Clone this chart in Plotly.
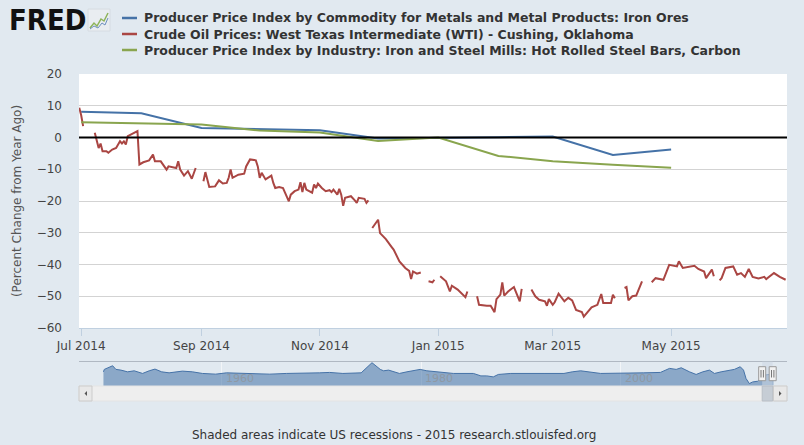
import plotly.graph_objects as go

# ---------------- data ----------------
ppi_dates = ["2014-07-01", "2014-08-01", "2014-09-01", "2014-10-01", "2014-11-01", "2014-12-01",
             "2015-01-01", "2015-02-01", "2015-03-01", "2015-04-01", "2015-05-01"]
iron_ore_pct = [8.1, 7.6, 3.0, 2.7, 2.3, -0.3, 0.0, 0.1, 0.3, -5.5, -3.8]
steel_bars_pct = [4.8, 4.4, 4.1, 2.2, 1.6, -1.1, 0.0, -5.8, -7.5, -8.6, -9.5]

oil_dates = [
    "2014-06-30", "2014-07-01", "2014-07-02", "2014-07-03", "2014-07-08", "2014-07-09", "2014-07-10",
    "2014-07-11", "2014-07-12", "2014-07-14", "2014-07-15", "2014-07-17", "2014-07-19", "2014-07-21",
    "2014-07-22", "2014-07-23", "2014-07-24", "2014-07-25", "2014-07-27", "2014-07-28", "2014-07-30",
    "2014-07-31", "2014-08-02", "2014-08-05", "2014-08-07", "2014-08-08", "2014-08-11", "2014-08-14",
    "2014-08-15", "2014-08-19", "2014-08-20", "2014-08-21", "2014-08-23", "2014-08-25", "2014-08-27",
    "2014-08-29", "2014-09-01", "2014-09-02", "2014-09-03", "2014-09-05", "2014-09-08", "2014-09-10",
    "2014-09-12", "2014-09-14", "2014-09-15", "2014-09-16", "2014-09-17", "2014-09-20", "2014-09-23",
    "2014-09-24", "2014-09-26", "2014-09-29", "2014-09-30", "2014-10-01", "2014-10-02", "2014-10-04",
    "2014-10-06", "2014-10-07", "2014-10-08", "2014-10-09", "2014-10-11", "2014-10-13", "2014-10-15",
    "2014-10-16", "2014-10-17", "2014-10-19", "2014-10-21", "2014-10-22", "2014-10-23", "2014-10-24",
    "2014-10-25", "2014-10-28", "2014-10-29", "2014-10-30", "2014-10-31", "2014-11-02", "2014-11-04",
    "2014-11-06", "2014-11-07", "2014-11-08", "2014-11-10", "2014-11-11", "2014-11-12", "2014-11-13",
    "2014-11-14", "2014-11-17", "2014-11-19", "2014-11-20", "2014-11-21", "2014-11-24", "2014-11-25",
    "2014-11-26", "2014-11-27", "2014-11-28", "2014-12-01", "2014-12-02", "2014-12-05", "2014-12-08",
    "2014-12-09", "2014-12-12", "2014-12-15", "2014-12-17", "2014-12-18", "2014-12-19", "2014-12-21",
    "2014-12-23", "2014-12-25", "2014-12-27", "2014-12-29", "2014-12-30", "2015-01-01", "2015-01-02",
    "2015-01-05", "2015-01-07", "2015-01-08", "2015-01-11", "2015-01-14", "2015-01-15", "2015-01-16",
    "2015-01-19", "2015-01-21", "2015-01-22", "2015-01-26", "2015-01-28", "2015-01-30", "2015-01-31",
    "2015-02-02", "2015-02-03", "2015-02-04", "2015-02-06", "2015-02-09", "2015-02-12", "2015-02-13",
    "2015-02-16", "2015-02-18", "2015-02-20", "2015-02-22", "2015-02-25", "2015-02-26", "2015-02-27",
    "2015-03-01", "2015-03-02", "2015-03-04", "2015-03-07", "2015-03-09", "2015-03-11", "2015-03-13",
    "2015-03-16", "2015-03-17", "2015-03-19", "2015-03-21", "2015-03-24", "2015-03-26", "2015-03-27",
    "2015-03-31", "2015-04-01", "2015-04-02", "2015-04-03", "2015-04-07", "2015-04-08", "2015-04-09",
    "2015-04-11", "2015-04-13", "2015-04-16", "2015-04-18", "2015-04-21", "2015-04-23", "2015-04-27",
    "2015-04-30", "2015-05-04", "2015-05-05", "2015-05-07", "2015-05-10", "2015-05-13", "2015-05-15",
    "2015-05-18", "2015-05-19", "2015-05-22", "2015-05-23", "2015-05-25", "2015-05-26", "2015-05-27",
    "2015-05-29", "2015-06-02", "2015-06-04", "2015-06-06", "2015-06-08", "2015-06-10", "2015-06-12",
    "2015-06-15", "2015-06-18", "2015-06-19", "2015-06-23", "2015-06-26", "2015-06-29",
]
oil_pct = [
    9.4, 7.0, 3.6, None, 1.5, -1.2, -3.3,
    -1.9, -4.3, -4.3, -4.8, -3.8, -3.3, -1.2,
    -1.9, -1.2, -2.2, 0.4, 1.0, 1.5, 2.0,
    -8.5, -7.8, -7.2, -5.4, -7.5, -7.5, -10.1,
    -9.1, -9.6, -7.5, -10.1, -12.0, -10.6, -13.0,
    -9.6, None, -13.8, -10.9, -15.6, -15.4, -13.5,
    -14.5, -14.3, -12.7, -10.1, -12.7, -11.7, -11.4,
    -9.1, -6.9, -7.2, -9.1, -12.7, -11.1, -13.2,
    -12.4, -12.0, -14.3, -15.9, -15.6, -15.9, -18.7,
    -20.1, -18.0, -16.9, -16.4, -14.1, -17.2, -14.3,
    -16.4, -17.4, -14.8, -15.9, -14.5, -15.9, -16.9,
    -16.6, -17.2, -16.4, -18.0, -16.2, -18.0, -21.5,
    -19.0, -18.5, -19.8, -20.6, -19.0, -19.3, -20.6,
    -19.8, None, -28.5, -25.9, -30.1, -32.0, -34.5,
    -35.3, -39.0, -41.1, -42.0, -44.6, -42.2, -42.9,
    -42.5, None, -45.3, -45.6, -44.8, None, -43.7,
    -45.3, -48.5, -46.7, -47.9, -49.5, -50.3, -48.5,
    None, -50.0, -52.7, -53.0, -53.0, -55.0, -50.9,
    -49.5, -45.6, -49.8, -48.5, -47.1, -51.6, -47.7,
    None, -47.9, -50.0, -51.1, -51.6, -53.0, -50.9,
    -52.7, -51.9, -49.2, -51.6, -50.5, -51.3, -54.3,
    -55.0, -56.4, -55.0, -53.5, -52.7, -49.3, -52.1,
    -52.1, -49.5, -50.6, None, -47.4, -47.1, -51.3,
    -50.0, -49.8, -45.3, None, -45.6, -44.3, -44.8,
    -40.1, -40.6, -39.0, -41.1, -40.8, -40.4, -41.4,
    -42.2, -44.3, -41.6, -43.7, None, -45.0, -44.3,
    -41.1, -40.6, -43.2, -42.7, -43.9, -41.4, -43.9,
    -44.4, -43.9, -44.6, -42.7, -43.9, -44.8,
]

# navigator overview series (relative level)
nav_dates = [
    "1948-03", "1948-04", "1949-02", "1949-06", "1949-12", "1950-08", "1951-04", "1952-02", "1952-10",
    "1953-05", "1954-01", "1954-10", "1956-02", "1957-02", "1958-02", "1959-06", "1960-07", "1962-03",
    "1963-07", "1964-11", "1966-07", "1968-03", "1969-11", "1970-11", "1972-03", "1974-01", "1975-02",
    "1975-12", "1976-04", "1976-10", "1977-11", "1978-08", "1979-12", "1980-08", "1982-04", "1983-04",
    "1985-04", "1986-01", "1986-08", "1987-04", "1987-10", "1989-01", "1992-05", "1994-05", "1995-03",
    "1996-01", "1998-01", "1999-11", "2002-05", "2004-01", "2004-12", "2005-08", "2006-02", "2006-12",
    "2007-08", "2008-04", "2008-12", "2009-06", "2010-02", "2011-06", "2012-01", "2012-05", "2012-08",
    "2012-12", "2013-04", "2013-10", "2014-02", "2014-06", "2015-05",
]
nav_values = [
    28.0, 32.8, 40.0, 32.8, 31.4, 28.0, 30.0, 24.8, 30.0,
    33.4, 28.0, 26.0, 29.4, 28.0, 24.8, 23.4, 26.0, 24.8,
    24.8, 23.4, 24.8, 24.8, 26.0, 26.8, 24.8, 26.0, 46.0,
    32.8, 30.0, 31.4, 24.8, 28.0, 32.8, 30.0, 26.8, 24.8,
    24.8, 20.0, 20.0, 18.0, 22.8, 24.8, 24.8, 24.8, 28.0,
    30.0, 24.8, 24.8, 26.0, 26.8, 34.8, 32.8, 36.0, 28.0,
    22.8, 28.0, 31.4, 24.8, 28.0, 32.8, 38.0, 31.4, 14.8,
    4.8, 8.0, 9.4, 14.8, 21.4, 24.0,
]
nav_years = ["1960", "1980", "2000"]

series_names = [
    "Producer Price Index by Commodity for Metals and Metal Products: Iron Ores",
    "Crude Oil Prices: West Texas Intermediate (WTI) - Cushing, Oklahoma",
    "Producer Price Index by Industry: Iron and Steel Mills: Hot Rolled Steel Bars, Carbon",
]
y_title = "(Percent Change from Year Ago)"
footer = "Shaded areas indicate US recessions - 2015 research.stlouisfed.org"

# ---------------- layout geometry ----------------
W, H = 804, 445
ML, MR, MT, MB = 79, 17, 74, 59
PW, PH = W - ML - MR, H - MT - MB
BOTTOM = H - MB


def px(x):
    return (x - ML) / PW


def py(y):
    return (BOTTOM - y) / PH


BLUE, RED, GREEN = "#4572A7", "#AA4643", "#89A54E"
BG = "#E1E9F0"
FONT = "DejaVu Sans"
CFONT = "DejaVu Sans Condensed"

fig = go.Figure()
colors = [BLUE, RED, GREEN]
xs = [ppi_dates, oil_dates, ppi_dates]
ys = [iron_ore_pct, oil_pct, steel_bars_pct]
for name, c, x, y in zip(series_names, colors, xs, ys):
    fig.add_trace(go.Scatter(x=x, y=y, name=name, mode="lines", connectgaps=False,
                             line=dict(color=c, width=2), showlegend=False,
                             xaxis="x", yaxis="y", hoverinfo="skip"))

fig.add_trace(go.Scatter(x=nav_dates, y=nav_values, mode="lines", fill="tozeroy",
                         line=dict(color=BLUE, width=1), fillcolor="rgba(69,114,167,0.55)",
                         showlegend=False, xaxis="x2", yaxis="y2", hoverinfo="skip"))

main_bottom = py(328)
nav_top = py(361.5)

fig.update_layout(
    width=W, height=H,
    margin=dict(l=ML, r=MR, t=MT, b=MB, pad=0),
    paper_bgcolor=BG, plot_bgcolor=BG,
    showlegend=False,
    xaxis=dict(domain=[0, 1], anchor="y", type="date",
               range=["2014-06-29 21:00", "2015-06-29 17:00"],
               tick0="2014-07-01", dtick="M2", tickformat="%b %Y",
               ticks="outside", ticklen=7, tickcolor="#C0D0E0", tickwidth=1,
               showline=True, linecolor="#C0D0E0", linewidth=1,
               showgrid=False, zeroline=False,
               tickfont=dict(family=FONT, size=12, color="#444")),
    yaxis=dict(domain=[main_bottom, 1], anchor="x", range=[-60, 20], dtick=10,
               showgrid=True, gridcolor="#D3D3D3", gridwidth=1, zeroline=False,
               ticks="", ticklabelstandoff=16,
               tickfont=dict(family=FONT, size=12, color="#444"),
               title=dict(text=y_title, font=dict(family=FONT, size=12, color="#555"),
                          standoff=12)),
    xaxis2=dict(domain=[0, 1], anchor="y2", type="date",
                range=["1945-09-18", "2016-09-09"],
                tickvals=[f"{y}-01-01" for y in nav_years], showticklabels=False, ticks="",
                showgrid=True, gridcolor="#F2F5F8", gridwidth=1, zeroline=False,
                showline=False),
    yaxis2=dict(domain=[0, nav_top], anchor="x2", range=[0, 48.4], visible=False),
)

shapes = []
# white plot area for the main chart
shapes.append(dict(type="rect", xref="x domain", yref="y domain", x0=0, x1=1, y0=0, y1=1,
                   fillcolor="white", line=dict(width=0), layer="below"))
# black zero line on top
shapes.append(dict(type="line", xref="x domain", yref="y", x0=0, x1=1, y0=0, y1=0,
                   line=dict(color="black", width=2), layer="above"))
# navigator top border
shapes.append(dict(type="line", xref="paper", yref="paper", x0=0, x1=1, y0=nav_top, y1=nav_top,
                   line=dict(color="#B0B8C2", width=1)))
# selected window in navigator
shapes.append(dict(type="rect", xref="paper", yref="paper", x0=px(762.2), x1=px(772.7),
                   y0=0, y1=nav_top, fillcolor="rgba(205,215,228,0.55)", line=dict(width=0)))
# scrollbar track
sb_top, sb_bot = py(386), py(401)
shapes.append(dict(type="rect", xref="paper", yref="paper", x0=0, x1=1, y0=sb_bot, y1=sb_top,
                   fillcolor="#EEEEEE", line=dict(color="#E4E4E4", width=1)))
# scrollbar thumb
shapes.append(dict(type="rect", xref="paper", yref="paper", x0=px(762.2), x1=px(772.7),
                   y0=sb_bot, y1=sb_top, fillcolor="#C6CDD5", line=dict(color="#B8BEC6", width=1)))
# arrow buttons
for bx0, bx1 in [(79, 92), (773.5, 787)]:
    shapes.append(dict(type="rect", xref="paper", yref="paper", x0=px(bx0), x1=px(bx1),
                       y0=sb_bot, y1=sb_top, fillcolor="#E8E8E8", line=dict(color="#CCCCCC", width=1)))


def tri(points):
    return "M " + " L ".join(f"{px(a):.5f},{py(b):.5f}" for a, b in points) + " Z"


shapes.append(dict(type="path", xref="paper", yref="paper", path=tri([(87, 391), (87, 396), (84.5, 393.5)]),
                   fillcolor="#555", line=dict(width=0)))
shapes.append(dict(type="path", xref="paper", yref="paper", path=tri([(779, 391), (779, 396), (781.5, 393.5)]),
                   fillcolor="#555", line=dict(width=0)))
# navigator handles
for cx in (762.2, 772.7):
    shapes.append(dict(type="rect", xref="paper", yref="paper", x0=px(cx - 3.5), x1=px(cx + 3.5),
                       y0=py(380.7), y1=py(366.7), fillcolor="#F2F2F2", line=dict(color="#999999", width=1)))
    for dx in (-1.2, 1.2):
        shapes.append(dict(type="line", xref="paper", yref="paper", x0=px(cx + dx), x1=px(cx + dx),
                           y0=py(377.5), y1=py(370), line=dict(color="#777", width=1)))
# legend line samples
for c, yy in zip(colors, (18, 34, 50)):
    shapes.append(dict(type="line", xref="paper", yref="paper", x0=px(122), x1=px(137),
                       y0=py(yy), y1=py(yy), line=dict(color=c, width=2.5)))
# FRED icon
shapes.append(dict(type="rect", xref="paper", yref="paper", x0=px(88), x1=px(110), y0=py(31), y1=py(9),
                   fillcolor="#E9EDF1", line=dict(color="#D6DCE2", width=1)))
shapes.append(dict(type="path", xref="paper", yref="paper",
                   path="M " + " L ".join(f"{px(a):.5f},{py(b):.5f}" for a, b in
                                          [(90, 28), (94, 23), (97, 26), (101, 19), (104, 21), (108, 13)]),
                   line=dict(color="#8DB35A", width=1.5)))
shapes.append(dict(type="path", xref="paper", yref="paper",
                   path="M " + " L ".join(f"{px(a):.5f},{py(b):.5f}" for a, b in
                                          [(90, 29), (94, 26), (98, 28), (102, 23), (105, 25), (108, 18)]),
                   line=dict(color="#6C8FBF", width=1)))
fig.update_layout(shapes=shapes)

ann = []
ann.append(dict(text="<b>FRED</b>", xref="paper", yref="paper", x=px(7), y=py(20),
                xanchor="left", yanchor="middle", showarrow=False,
                font=dict(family=CFONT, size=29, color="#111")))
for name, yy in zip(series_names, (18, 34, 50)):
    ann.append(dict(text=f"<b>{name}</b>", xref="paper", yref="paper", x=px(142), y=py(yy),
                    xanchor="left", yanchor="middle", showarrow=False,
                    font=dict(family=FONT, size=12.5, color="#333")))
# navigator year labels, placed right of their gridlines
for yr in nav_years:
    ann.append(dict(text=yr, xref="x2", yref="paper", x=f"{yr}-01-01", y=py(378.5),
                    xanchor="left", yanchor="middle", xshift=2, showarrow=False,
                    font=dict(family=FONT, size=11, color="#8E98A4")))
ann.append(dict(text=footer, xref="paper", yref="paper", x=px(393.5), y=py(435),
                xanchor="center", yanchor="middle", showarrow=False,
                font=dict(family=FONT, size=12, color="#333")))
fig.update_layout(annotations=ann)

fig.write_html("out.html", config={"displayModeBar": False},
               post_script="document.body.style.margin='0';document.body.style.background='%s';" % BG)
